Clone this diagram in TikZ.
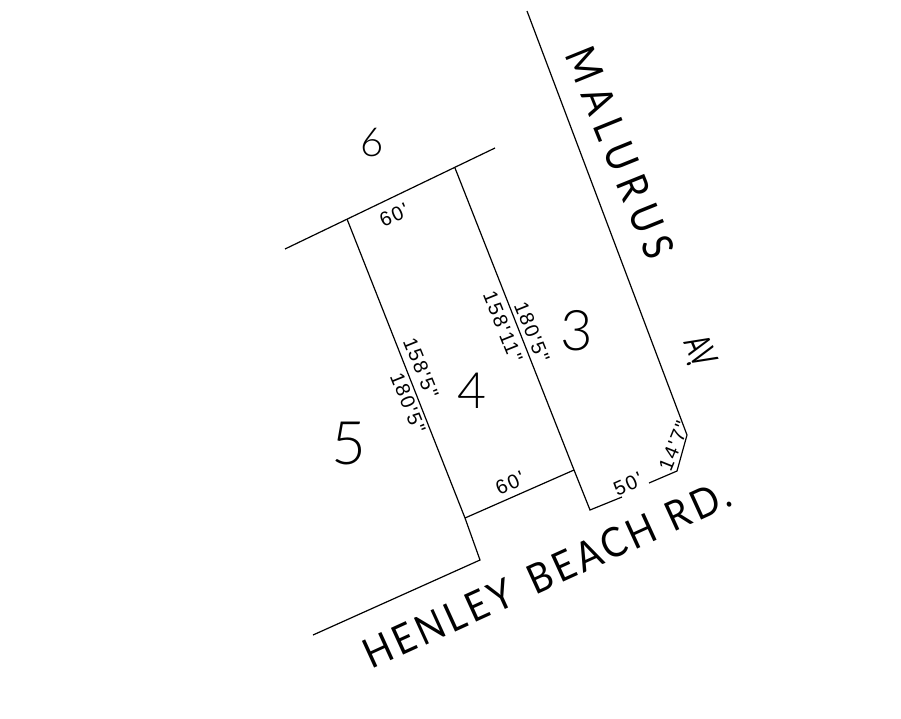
\documentclass[tikz,border=0pt]{standalone}
\usepackage{fontspec}
\setmainfont{Liberation Sans}
\newfontfamily\lswide[LetterSpace=22]{Lato}
\newfontfamily\lsmid[LetterSpace=10]{Lato}
\newfontfamily\lsplain{Lato}
\newfontfamily\lslight{Lato Light}
\newfontfamily\lstight[LetterSpace=8]{Liberation Sans}
\tikzset{
  boundary/.style={draw=black,line width=1.2pt,line join=miter},
  lotnum/.style={inner sep=0pt,font=\lslight\fontsize{#1}{#1}\selectfont},
  dim/.style={inner sep=0pt,font=\lstight\fontsize{20}{20}\selectfont},
  road/.style={inner sep=0pt,font=\lswide\fontsize{42}{42}\selectfont},
  roadb/.style={inner sep=0pt,font=\lsmid\fontsize{41}{41}\selectfont}
}
\begin{document}
\begin{tikzpicture}[x=1pt,y=-1pt]
\useasboundingbox (0,0) rectangle (901,718);
% road and lot boundaries
\draw[boundary] (527,11) -- (687,435) -- (677,471) -- (649,483);
\draw[boundary] (622,497) -- (590,510) -- (574,470) -- (455,168);
\draw[boundary] (285,249) -- (495,148);
\draw[boundary] (347,219) -- (465,518) -- (480,560) -- (313,635);
\draw[boundary] (465,518) -- (574,470);
% lot numbers
\node[lotnum=40] (lsix) at (372,143) {6};
\node[lotnum=56] (lthree) at (577,331) {3};
\node[lotnum=50] (lfour) at (472,391) {4};
\node[lotnum=60] (lfive) at (349,444) {5};
% dimensions
\node[dim,rotate=24] (da) at (394,215) {60'};
\node[dim,rotate=24] (db) at (510,483) {60'};
\node[dim,rotate=24] (dc) at (628,484) {50'};
\node[dim,rotate=68] (dd) at (674,446) {14'7"};
\node[dim,rotate=-68] (de) at (421,368) {158'5"};
\node[dim,rotate=-68] (df) at (408,403) {180'5"};
\node[dim,rotate=-68] (dg) at (503,327) {158'11"};
\node[dim,rotate=-68] (dh) at (532,332) {180'5"};
% road names
\node[road,rotate=-68,xscale=.88] (malurus) at (620,153) {MALURUS};
\node[inner sep=0pt,font=\lsplain\fontsize{36}{36}\selectfont,rotate=-67,xscale=.62] (av) at (698,350) {AV\kern-.4em\raisebox{-.14em}{.}};
\node[roadb,rotate=24.5,xscale=.9] (henley) at (547,574) {HENLEY\hspace{8pt} BEACH\hspace{2pt} RD.};
\end{tikzpicture}
\end{document}
